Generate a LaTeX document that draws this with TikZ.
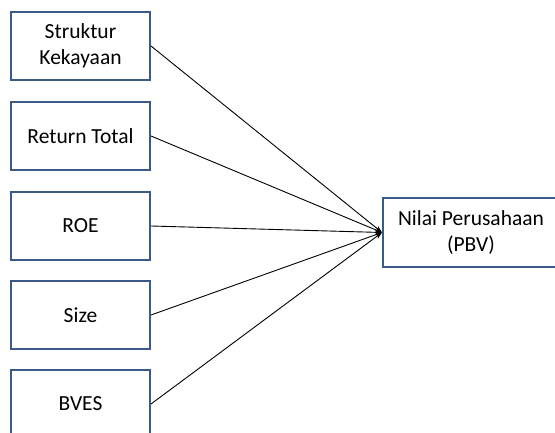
\documentclass[tikz,border=0pt]{standalone}
\usepackage{fontspec}
\setmainfont{Carlito}
\usetikzlibrary{arrows.meta}
\definecolor{boxblue}{HTML}{3B5A8A}
\begin{document}
\begin{tikzpicture}[x=1pt,y=-1pt,
  box/.style={draw=boxblue,line width=2pt,fill=white,minimum width=139pt,minimum height=68pt,align=center,font=\fontsize{21.5}{26}\selectfont,inner sep=0pt},
  conn/.style={draw=black,line width=0.9pt,-{Stealth[length=7pt,width=5pt]}}]
\useasboundingbox (0,0) rectangle (555,433);
\begin{scope}
\clip (0,0) rectangle (555,433);
\node[box] (a) at (80.5,46) {Struktur\\Kekayaan};
\node[box] (b) at (80.5,136) {Return Total};
\node[box] (c) at (80.5,226) {ROE};
\node[box] (d) at (80.5,315) {Size};
\node[box] (e) at (80.5,404) {BVES};
\node[box,minimum width=190pt,minimum height=69pt,anchor=west] (t) at (382,232.5) {\hspace*{-14pt}Nilai Perusahaan\\\hspace*{-14pt}(PBV)};
\end{scope}
\coordinate (tp) at (t.west);
\draw[conn] (a.east) -- (tp);
\draw[conn] (b.east) -- (tp);
\draw[conn] (c.east) -- (tp);
\draw[conn] (d.east) -- (tp);
\draw[conn] (e.east) -- (tp);
\end{tikzpicture}
\end{document}
